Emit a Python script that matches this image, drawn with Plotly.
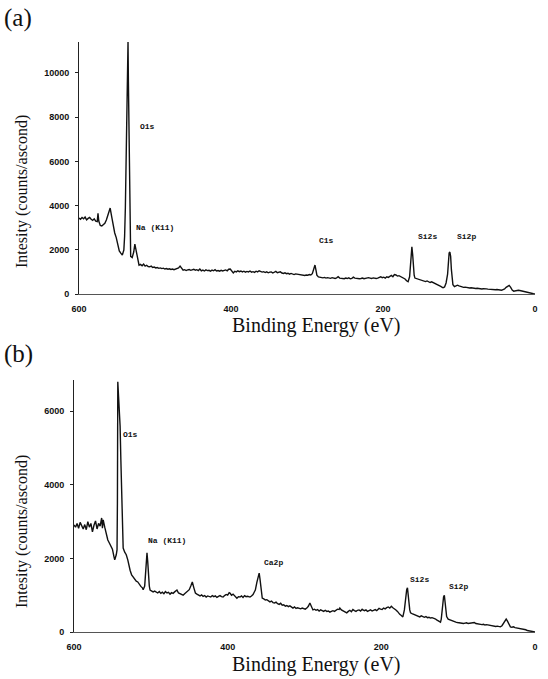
import plotly.graph_objects as go

# ---------------- data ----------------
a_be = [600,598,596,594,592,590,588,586,584,582,580,578,576,575,574,572,570,568,566,564,562,560,559,557,555,553,551,549,547,545,543,541,540,539,538,537,536,535.5,535,534,533,532.5,532,530,528,526.5,525,523,521,519,517,515,513,511,509,507,505,503,501,499,497,495,493,491,489,487,485,483,481,479,477,475,473,471,469,467,465,463,461,459,457,455,453,451,449,447,445,443,441,439,437,435,433,431,429,427,425,423,421,419,417,415,413,411,409,407,405,403,401,399,397,395,393,391,389,387,385,383,381,379,377,375,373,371,369,367,365,363,361,359,357,355,353,351,349,347,345,343,341,339,337,335,333,331,329,327,325,323,321,319,317,315,313,311,309,307,305,303,301,299,297,295,293,291,289.5,288,287,285,283,281,279,277,275,273,271,269,267,265,263,261,259,257,255,253,251,249,247,245,243,241,239,237,235,233,231,229,227,225,223,221,219,217,215,213,211,209,207,205,203,201,199,197,195,193,191,189,187,185,183,181,179,177,175,173,171,169,167,165,164,163,162,161,160,159,158,156,154,152,150,148,146,144,142,140,138,136,134,132,130,128,126,124,122,121,119,117,115,114,113,112,111,110,109,108,106,104,102,100,98,96,94,92,90,88,86,84,82,80,78,76,74,72,70,68,66,64,62,60,58,56,54,52,50,48,46,44,42,40,38,36,34,32,30,28,26,24,22,20,18,16,14,12,10,8,6,4,2,0]
a_int = [3440,3380,3460,3400,3480,3350,3420,3460,3380,3330,3400,3300,3280,3650,3300,3100,3080,3150,3200,3350,3550,3750,3890,3500,3100,2760,2550,2150,1950,1850,1760,1990,2600,3900,6830,8190,10300,11400,9600,6380,3350,3300,1700,1650,1900,2260,2000,1500,1300,1340,1280,1350,1260,1300,1240,1230,1260,1200,1220,1180,1200,1160,1180,1150,1170,1130,1150,1120,1140,1110,1130,1100,1120,1150,1180,1260,1150,1080,1100,1060,1090,1110,1070,1100,1120,1080,1100,1060,1130,1050,1080,1040,1090,1060,1070,1030,1080,1050,1100,1040,1060,1030,1070,1040,1060,1090,1050,1120,1130,1020,950,1030,1000,1050,1010,1040,1000,1030,990,1020,1000,1040,990,1010,980,1030,1000,1050,1000,990,1010,970,1000,960,990,1000,950,980,1020,960,990,1000,950,930,960,920,940,900,930,890,880,910,900,870,880,850,870,840,860,850,880,860,920,1100,1310,1050,850,770,750,760,730,750,720,740,730,710,740,720,700,730,780,720,700,710,690,720,700,730,690,710,760,720,700,710,690,700,720,690,710,700,740,720,700,730,710,700,720,760,780,740,760,720,780,750,800,840,780,880,860,810,830,790,760,720,680,600,560,780,1300,1800,2130,1800,1200,850,720,700,680,640,620,600,580,560,590,540,520,550,520,490,460,420,380,340,300,280,320,500,900,1500,1850,1900,1700,1100,600,420,330,380,400,370,340,320,300,310,290,300,270,280,260,270,250,260,240,250,230,240,220,230,220,210,220,200,210,190,200,180,190,170,200,230,300,360,390,300,180,130,150,160,170,160,140,130,110,90,70,50,30,20,10,0]

b_be = [600,598,596,594,592,590,588,586,584,582,580,578,576,574,572,570,568,566,564,563,562,560,558,556,554,552,550,548,547,545,544,543.5,543,542,541,540,539,538,537.5,537,536,534,532,530,528,527,525,523,521,519,517,515,513,511,510,508,506,505,504,503,502,501,499,497,495,493,491,489,487,485,483,481,479,477,475,473,471,469,467,466,464,462,460,458,456,454,452,450,448,446,444,442,440,438,436,434,432,430,428,426,424,422,420,418,416,414,412,410,408,406,404,402,400,398,397,395,393,391,389,388,386,384,382,380,378,376,374,372,371,369,367,365,364,362,360,359,358,357,356,355,353,351,349,347,345,343,341,339,337,335,333,331,329,327,325,323,321,319,317,315,313,311,309,307,305,303,301,299,297,295,293,291,289,287,285,283,281,279,277,275,273,271,269,267,265,263,261,259,257,255,254,252,250,248,246,245,243,241,239,237,235,233,231,229,227,225,224,222,220,218,216,214,212,210,208,206,205,203,201,199,197,195,193,191,189,187,185,183,181,179,178,176,174,172,170,168,167,166,165,164,163,162,160,158,156,154,152,150,148,146,144,142,140,138,136,134,132,130,128,126,124,123,122,121,120,119,118,117,116,115,113,111,109,107,105,103,101,99,97,95,93,91,89,87,85,83,81,79,77,75,73,71,69,67,65,63,61,59,57,55,53,51,49,47,45,43,41,39,37.5,36,34,32,30,28,26,24,22,20,18,16,14,12,10,8,6,4,2,0]
b_int = [2910,2850,2950,2820,2980,2870,2800,2920,2780,3000,2850,2950,2720,2900,3020,2800,2950,2880,3100,2820,3050,2850,2650,2500,2420,2350,2250,2050,1960,2100,2230,3500,6800,6400,6100,5600,4670,3800,3300,2600,2280,2170,2100,1960,1750,1680,1550,1490,1420,1380,1360,1290,1240,1200,1150,1250,1800,2150,1900,1500,1250,1140,1120,1090,1110,1080,1060,1100,1050,1080,1040,1100,1060,1080,1030,1070,1050,1090,1130,1140,1060,1040,1020,1000,1040,1080,1100,1150,1250,1360,1200,1060,1030,1000,980,1010,970,990,950,980,960,950,990,960,980,940,970,990,960,950,990,1020,1000,1070,1060,1000,1030,980,940,920,960,950,980,940,990,960,970,940,950,980,1020,1100,1140,1350,1550,1600,1450,1200,1000,920,900,870,880,850,820,840,800,790,810,770,750,780,730,740,700,720,690,710,670,650,680,640,660,650,630,650,640,620,650,700,790,700,600,620,590,610,570,600,580,560,590,560,570,540,560,580,560,600,620,610,650,600,580,550,530,520,560,590,550,610,580,560,590,600,570,620,600,580,600,560,580,600,570,590,610,580,600,640,620,610,650,630,660,680,650,700,660,640,600,560,520,480,450,410,600,1000,1150,1200,1050,800,600,520,500,480,470,450,430,410,440,420,400,420,390,400,380,390,380,360,330,300,280,270,350,600,850,950,1000,850,600,420,350,330,310,290,280,270,260,250,240,250,230,240,250,230,240,250,240,260,230,220,230,210,200,210,190,200,190,180,190,170,160,150,160,140,140,170,240,320,350,300,200,140,130,140,120,110,120,110,100,90,70,60,40,30,20,10,5,0]

x_ticks = [600, 400, 200, 0]
x_ticktext = ["600", "400", "200", "0"]
a_yticks = [0, 2000, 4000, 6000, 8000, 10000]
a_yticktext = ["0", "2000", "4000", "6000", "8000", "10000"]
b_yticks = [0, 2000, 4000, 6000]
b_yticktext = ["0", "2000", "4000", "6000"]

a_labels = ["O1s", "Na (K11)", "C1s", "Si2s", "Si2p"]
a_label_x = [510, 500, 275, 141, 90]
a_label_y = [7600, 3030, 2400, 2580, 2580]
b_labels = ["O1s", "Na (K11)", "Ca2p", "Si2s", "Si2p"]
b_label_x = [526, 479, 341, 150, 99]
b_label_y = [5380, 2500, 1900, 1440, 1250]

y_title = "Intesity (counts/ascond)"
x_title = "Binding Energy (eV)"

# ---------------- figure ----------------
W, H = 548, 679
fig = go.Figure()
fig.add_trace(go.Scatter(x=a_be, y=a_int, mode="lines", xaxis="x", yaxis="y",
                         line=dict(color="#111", width=1.4), showlegend=False))
fig.add_trace(go.Scatter(x=b_be, y=b_int, mode="lines", xaxis="x2", yaxis="y2",
                         line=dict(color="#111", width=1.4), showlegend=False))

def px(v):
    return v / W

def py(v):
    return 1 - v / H

tickfont = dict(family="Liberation Sans", size=9, color="#111", weight="bold")
common_x = dict(range=[600, 0], tickvals=x_ticks, ticktext=x_ticktext,
                showgrid=False, zeroline=False,
                showline=True, linecolor="#555", linewidth=1, ticks="",
                ticklabelstandoff=6,
                tickfont=tickfont, automargin=False)
common_y = dict(showgrid=False, zeroline=False, showline=True, linecolor="#222",
                linewidth=1, ticks="outside", ticklen=3, tickcolor="#222",
                ticklabelstandoff=4,
                tickfont=tickfont, automargin=False)

fig.update_layout(
    width=W, height=H, margin=dict(l=0, r=0, t=0, b=0, autoexpand=False),
    paper_bgcolor="white", plot_bgcolor="white",
    xaxis=dict(domain=[px(79), px(535)], anchor="y", **common_x),
    yaxis=dict(domain=[py(294), py(42)], anchor="x", range=[0, 11400],
               tickvals=a_yticks, ticktext=a_yticktext, **common_y),
    xaxis2=dict(domain=[px(74), px(535)], anchor="y2", **common_x),
    yaxis2=dict(domain=[py(632), py(380)], anchor="x2", range=[0, 6850],
                tickvals=b_yticks, ticktext=b_yticktext, **common_y),
)

ann = []
lab_font = dict(family="Liberation Mono", size=8, color="#111")
for t, x, y in zip(a_labels, a_label_x, a_label_y):
    ann.append(dict(text="<b>" + t + "</b>", x=x, y=y, xref="x", yref="y",
                    showarrow=False, font=lab_font))
for t, x, y in zip(b_labels, b_label_x, b_label_y):
    ann.append(dict(text="<b>" + t + "</b>", x=x, y=y, xref="x2", yref="y2",
                    showarrow=False, font=lab_font))

serif = dict(family="Liberation Serif", color="#111")
ann.append(dict(text="(a)", x=px(2), y=py(18), xref="paper", yref="paper",
                xanchor="left", yanchor="middle", showarrow=False,
                font=dict(size=25, **serif)))
ann.append(dict(text="(b)", x=px(2), y=py(354), xref="paper", yref="paper",
                xanchor="left", yanchor="middle", showarrow=False,
                font=dict(size=25, **serif)))
for yc in (192, 532):
    ann.append(dict(text=y_title, x=px(22), y=py(yc), xref="paper", yref="paper",
                    textangle=-90, showarrow=False, xanchor="center", yanchor="middle",
                    font=dict(size=16, **serif)))
for yc in (325, 664):
    ann.append(dict(text=x_title, x=px(316), y=py(yc), xref="paper", yref="paper",
                    showarrow=False, xanchor="center", yanchor="middle",
                    font=dict(size=20, **serif)))
fig.update_layout(annotations=ann)

fig.write_html("out.html",
               config={"displayModeBar": False},
               post_script="document.body.style.margin='0px';document.body.style.overflow='hidden';")
